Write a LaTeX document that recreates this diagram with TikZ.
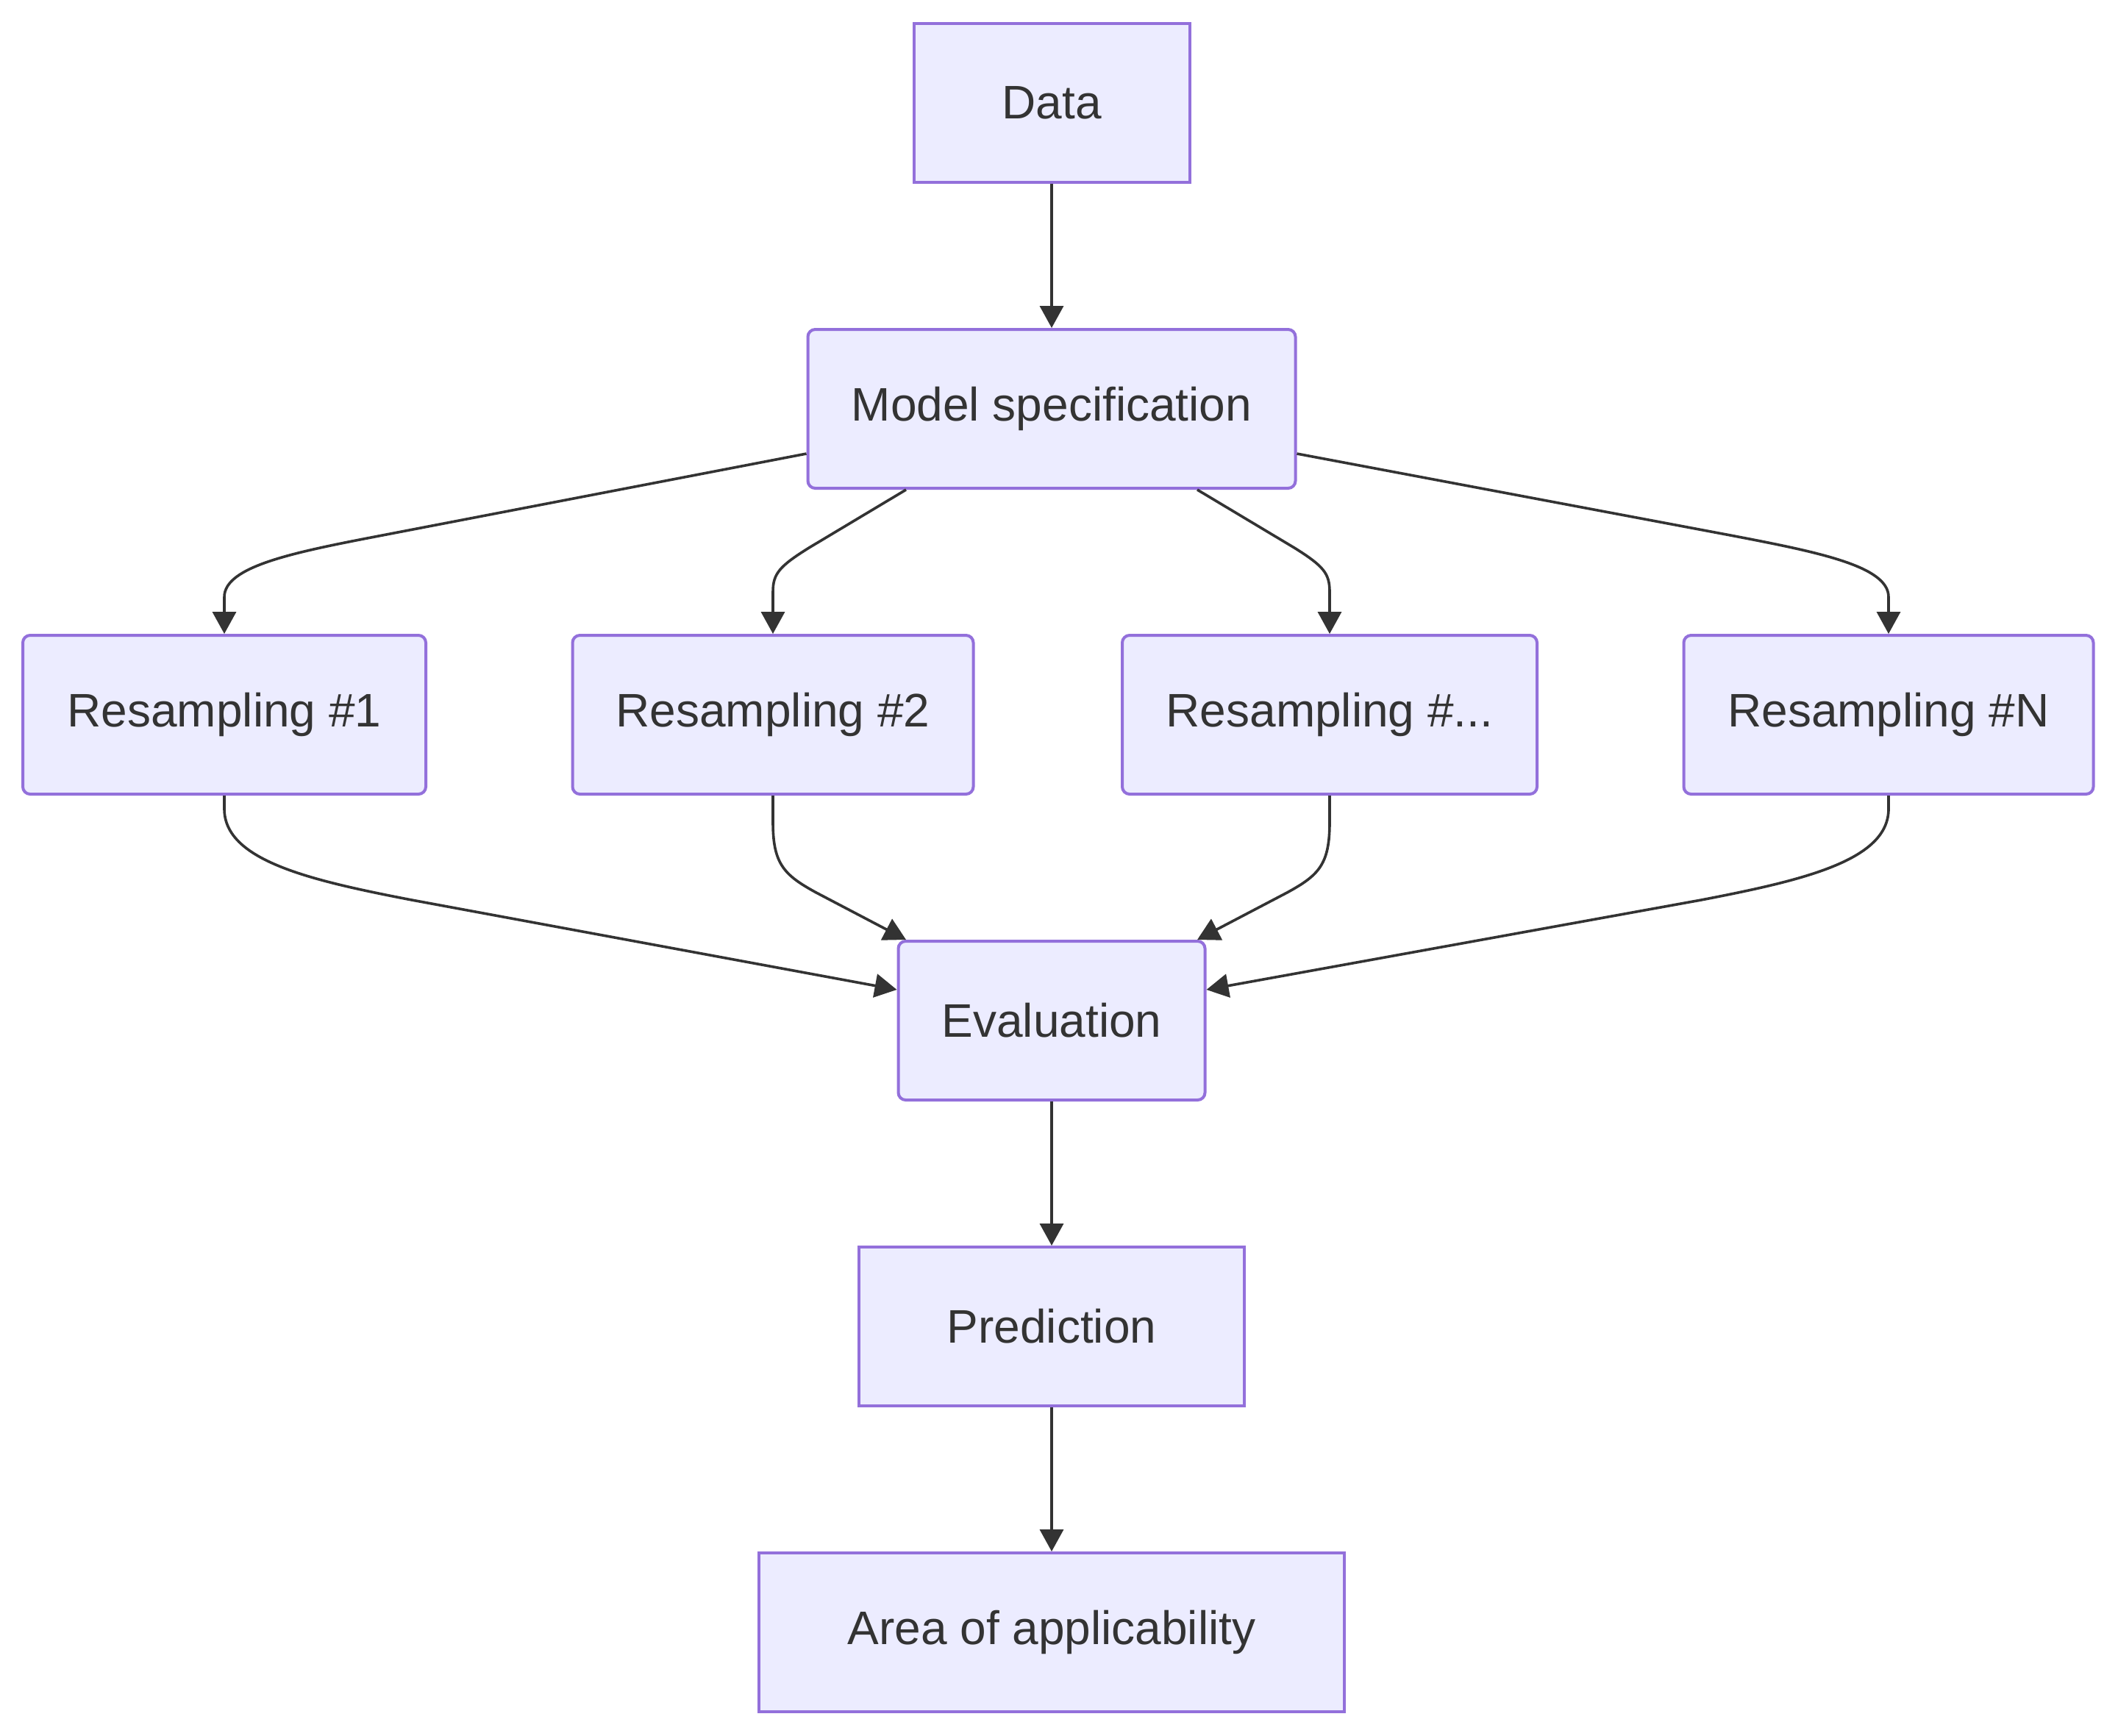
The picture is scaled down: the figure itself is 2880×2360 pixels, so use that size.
\documentclass[tikz,border=0pt]{standalone}
\usepackage{fontspec}
\setmainfont{Liberation Sans}
\usetikzlibrary{arrows.meta,calc}
\definecolor{nodefill}{HTML}{ECECFF}
\definecolor{nodeline}{HTML}{9370DB}
\definecolor{edgecol}{HTML}{333333}
\definecolor{textcol}{HTML}{333333}
\begin{document}
\begin{tikzpicture}[x=0.25pt,y=-0.25pt,
  box/.style={draw=nodeline,fill=nodefill,line width=1pt,text=textcol,
    font=\fontsize{16pt}{19pt}\selectfont,inner sep=0pt,minimum height=216*0.25pt},
  rbox/.style={box,rounded corners=2.5pt},
  conn/.style={draw=edgecol,line width=0.9pt,-{Triangle[length=7.5pt,width=8pt]}}]
\useasboundingbox[fill=white] (0,0) rectangle (2880,2360);
\node[box,minimum width=375*0.25pt] (data) at (1430,140) {Data};
\node[rbox,minimum width=663*0.25pt] (model) at (1430,556) {Model specification};
\node[rbox,minimum width=548*0.25pt] (r1) at (305,972) {Resampling \#1};
\node[rbox,minimum width=545*0.25pt] (r2) at (1051,972) {Resampling \#2};
\node[rbox,minimum width=564*0.25pt] (r3) at (1808,972) {Resampling \#...};
\node[rbox,minimum width=557*0.25pt] (rn) at (2568,972) {Resampling \#N};
\node[rbox,minimum width=417*0.25pt] (eval) at (1430,1388) {Evaluation};
\node[box,minimum width=524*0.25pt] (pred) at (1430,1804) {Prediction};
\node[box,minimum width=796*0.25pt] (area) at (1430,2220) {Area of applicability};

\draw[conn] (data) -- (model);
% model -> resamplings
\draw[conn] ($(model.west)+(0,61)$) -- (520,728) .. controls (400,751) and (305,770) .. (305,812) -- (r1.north);
\draw[conn] ($(model.east)+(0,61)$) -- (2353,728) .. controls (2473,751) and (2568,770) .. (2568,812) -- (rn.north);
\draw[conn] ($(model.south)+(-198,0)$) -- (1100,745) .. controls (1060,770) and (1051,780) .. (1051,805) -- (r2.north);
\draw[conn] ($(model.south)+(198,0)$) -- (1760,745) .. controls (1800,770) and (1808,780) .. (1808,805) -- (r3.north);
% resamplings -> evaluation
\draw[conn] (r1.south) -- (305,1100) .. controls (305,1170) and (420,1197) .. (560,1224) -- ($(eval.west)+(0,-42)$);
\draw[conn] (rn.south) -- (2568,1100) .. controls (2568,1170) and (2453,1197) .. (2313,1224) -- ($(eval.east)+(0,-42)$);
\draw[conn] (r2.south) -- (1051,1118) .. controls (1051,1175) and (1066,1190) .. (1110,1214) -- ($(eval.north)+(-198,0)$);
\draw[conn] (r3.south) -- (1808,1118) .. controls (1808,1175) and (1794,1190) .. (1750,1214) -- ($(eval.north)+(198,0)$);
\draw[conn] (eval) -- (pred);
\draw[conn] (pred) -- (area);
\end{tikzpicture}
\end{document}
